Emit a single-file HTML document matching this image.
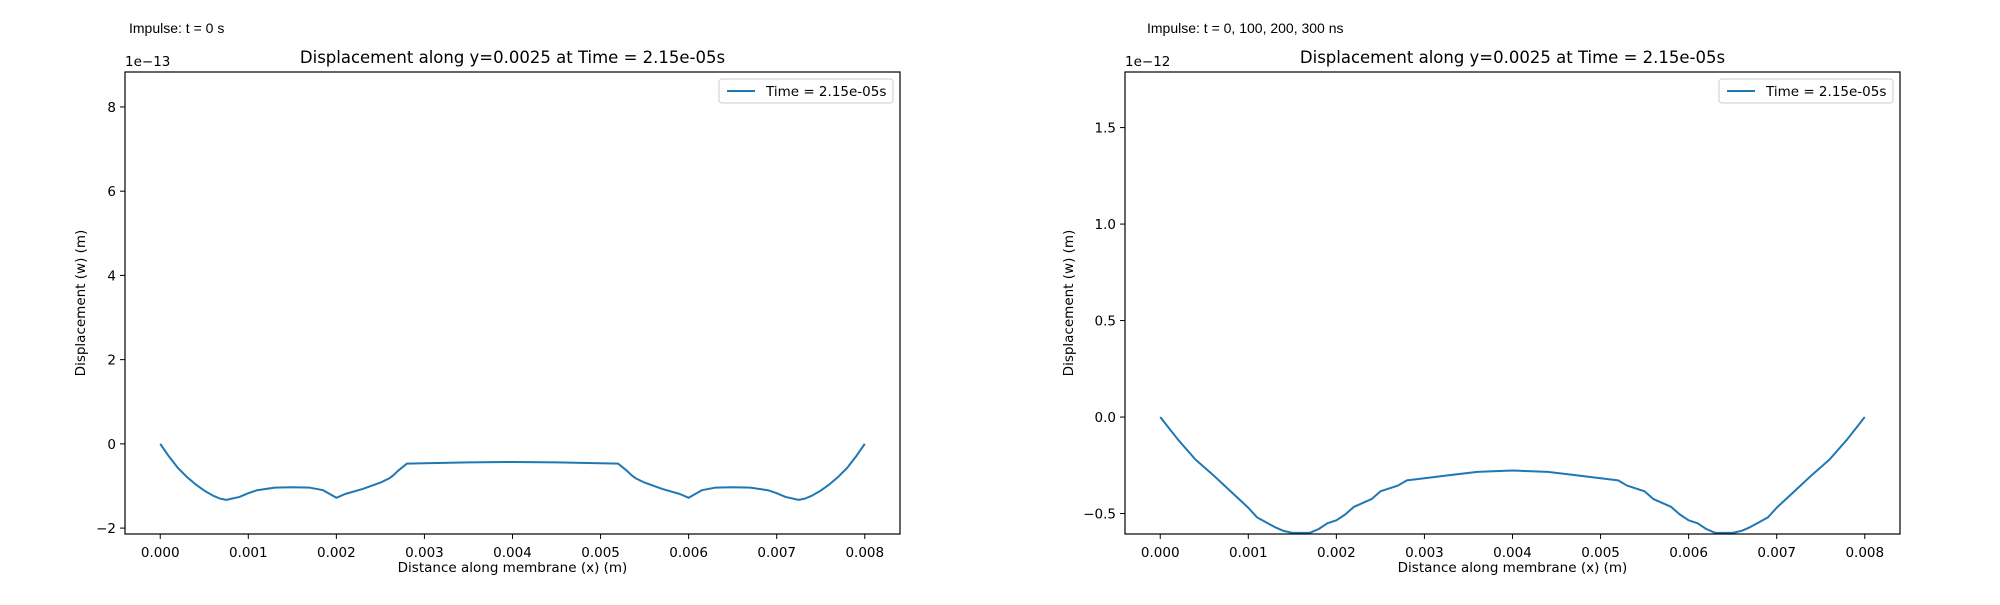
<!DOCTYPE html>
<html><head><meta charset="utf-8">
<style>
html,body{margin:0;padding:0;background:#fff;}
svg text{font-family:"DejaVu Sans","Liberation Sans",sans-serif;fill:#000;}
</style></head>
<body>
<svg id="fig" width="2000" height="600" viewBox="0 0 2000 600" xmlns="http://www.w3.org/2000/svg"></svg>
<script>
// Left chart data (units 1e-13 m)
const leftHalfX = [0,0.0001,0.0002,0.0003,0.0004,0.0005,0.0006,0.00068,0.00075,0.0009,0.001,0.0011,0.0013,0.0015,0.0017,0.00185,0.00195,0.002,0.0021,0.0023,0.0025,0.0026,0.00265,0.0027,0.0028,0.003,0.0035,0.004];
const leftHalfY = [0,-0.30,-0.57,-0.78,-0.96,-1.11,-1.23,-1.30,-1.33,-1.26,-1.17,-1.10,-1.04,-1.03,-1.04,-1.10,-1.22,-1.28,-1.19,-1.07,-0.92,-0.82,-0.74,-0.64,-0.47,-0.46,-0.44,-0.43];
// Right chart data (units 1e-12 m)
const rightHalfX = [0,0.0002,0.0004,0.0006,0.0008,0.001,0.0011,0.0012,0.0013,0.0014,0.0015,0.0017,0.0018,0.0019,0.002,0.0021,0.0022,0.0024,0.0025,0.0027,0.0028,0.003,0.0033,0.0036,0.004];
const rightHalfY = [0,-0.116,-0.22,-0.30,-0.385,-0.47,-0.52,-0.545,-0.57,-0.59,-0.60,-0.60,-0.58,-0.55,-0.535,-0.505,-0.465,-0.425,-0.385,-0.355,-0.328,-0.317,-0.30,-0.284,-0.277];
const xTicks = [0,0.001,0.002,0.003,0.004,0.005,0.006,0.007,0.008];
const xTickLabels = ["0.000","0.001","0.002","0.003","0.004","0.005","0.006","0.007","0.008"];
const leftYTicks = [-2,0,2,4,6,8];
const leftYTickLabels = ["\u22122","0","2","4","6","8"];
const rightYTicks = [-0.5,0,0.5,1.0,1.5];
const rightYTickLabels = ["\u22120.5","0.0","0.5","1.0","1.5"];

const NS="http://www.w3.org/2000/svg";
const svg=document.getElementById('fig');
function mk(tag,attrs,parent){const e=document.createElementNS(NS,tag);for(const k in attrs)e.setAttribute(k,attrs[k]);(parent||svg).appendChild(e);return e;}
function mirror(xs,ys){const X=xs.slice(),Y=ys.slice();for(let i=xs.length-2;i>=0;i--){X.push(0.008-xs[i]);Y.push(ys[i]);}return [X,Y];}

function chart(cfg){
  const g=mk('g',{});
  
  
  const L=cfg.left,R=cfg.left+775,T=72,B=534;
  const xs=v=>L+(v-(-0.0004))/(0.0088)*(R-L);
  const ys=v=>B-(v-cfg.ymin)/(cfg.ymax-cfg.ymin)*(B-T);
  const [X,Y]=mirror(cfg.hx,cfg.hy);
  let d='';X.forEach((x,i)=>{d+=(i?'L':'M')+xs(x).toFixed(2)+' '+ys(Y[i]).toFixed(2);});
  const line=mk('path',{d:d,fill:'none',stroke:'#1f77b4','stroke-width':2,'stroke-linejoin':'round'},g);
  
  
  const fr=mk('rect',{x:L,y:T,width:R-L,height:B-T,fill:'none',stroke:'#000','stroke-width':1.2},g);
  
  
  xTicks.forEach((t,i)=>{const x=xs(t);
    mk('line',{x1:x,x2:x,y1:B,y2:B+5,stroke:'#000','stroke-width':1},g);
    const tx=mk('text',{x:x,y:B+23,'text-anchor':'middle','font-size':13.5},g);tx.textContent=xTickLabels[i];
    
    });
  cfg.yt.forEach((t,i)=>{const y=ys(t);
    mk('line',{x1:L-5,x2:L,y1:y,y2:y,stroke:'#000','stroke-width':1},g);
    const tx=mk('text',{x:L-9,y:y+5,'text-anchor':'end','font-size':13.5},g);tx.textContent=cfg.ytl[i];
    
    });
  const xl=mk('text',{x:(L+R)/2,y:572,'text-anchor':'middle','font-size':13.5},g);xl.textContent='Distance along membrane (x) (m)';
  
  
  const yl=mk('text',{x:0,y:0,'text-anchor':'middle','font-size':13.5,transform:`translate(${cfg.ylx},303) rotate(-90)`},g);yl.textContent='Displacement (w) (m)';
  
  
  const off=mk('text',{x:L,y:66,'font-size':13.5},g);off.textContent=cfg.off;
  
  
  const ti=mk('text',{x:(L+R)/2,y:63,'text-anchor':'middle','font-size':16.5},g);ti.textContent='Displacement along y=0.0025 at Time = 2.15e-05s';
  
  
  const an=mk('text',{x:cfg.annX,y:33,'font-size':14,style:'font-family:"Liberation Sans",sans-serif'},g);an.textContent=cfg.ann;
  
  
  const lg=mk('g',{},g);
  
  
  mk('rect',{x:R-181,y:79,width:174,height:24,rx:3,fill:'#fff',stroke:'#ccc','stroke-width':1},lg);
  mk('line',{x1:R-173,x2:R-145,y1:91,y2:91,stroke:'#1f77b4','stroke-width':2},lg);
  const lt=mk('text',{x:R-134,y:96,'font-size':13.5},lg);lt.textContent='Time = 2.15e-05s';
  
  
}
chart({name:'left-chart',left:125,ymin:-2.14,ymax:8.83,hx:leftHalfX,hy:leftHalfY,yt:leftYTicks,ytl:leftYTickLabels,ylx:85,off:'1e\u221213',ann:'Impulse: t = 0 s',annX:129});
chart({name:'right-chart',left:1125,ymin:-0.606,ymax:1.788,hx:rightHalfX,hy:rightHalfY,yt:rightYTicks,ytl:rightYTickLabels,ylx:1073,off:'1e\u221212',ann:'Impulse: t = 0, 100, 200, 300 ns',annX:1147});
</script>
</body></html>
